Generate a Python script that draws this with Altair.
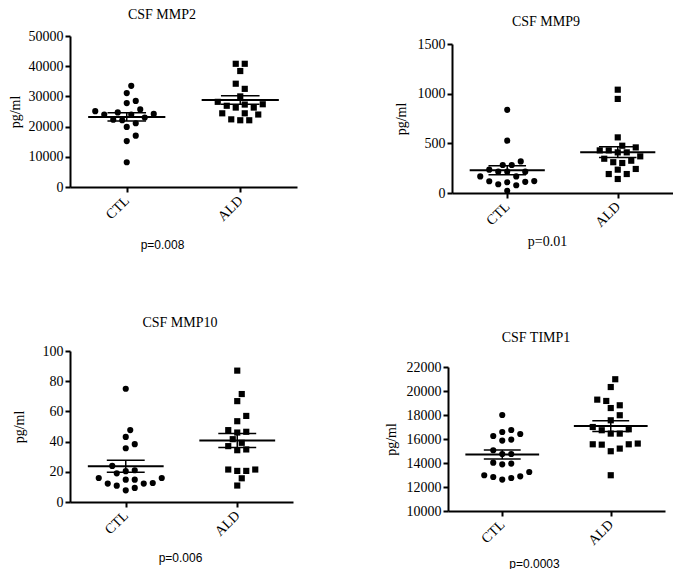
import altair as alt
import numpy as np
import pandas as pd

GROUPS = ["CTL", "ALD"]

MMP2_CTL = [33500, 31100, 27800, 28500, 25100, 25700, 24200, 24000, 24000, 24700,
            22100, 23000, 22300, 21100, 19900, 17000, 15200, 8200]
MMP2_ALD = [40800, 40800, 38400, 34200, 32500, 30000, 28200, 27300, 26300, 26300,
            26900, 27400, 24400, 22400, 22100, 22100, 24000, 24400]

MMP9_CTL = [837, 527, 318, 282, 282, 235, 215, 215, 215, 167, 167, 118, 88, 108,
            78, 112, 120, 23]
MMP9_ALD = [1040, 947, 560, 476, 459, 429, 409, 409, 429, 369, 345, 325, 310, 302,
            242, 235, 191, 191, 141]

MMP10_CTL = [75, 47.6, 43.1, 38.3, 35.6, 23.9, 20.4, 21, 19, 15.9, 14.8, 14.8, 15.9,
             12.2, 10.8, 12.6, 7.7, 9.3, 12.2]
MMP10_ALD = [87, 71.5, 66.8, 57, 53.5, 47.6, 46.5, 46, 41.6, 37, 34.3, 34.8, 39.2,
             21.5, 20.6, 20.6, 21.5, 15.7, 10.9]

TIMP1_CTL = [18000, 16420, 16750, 16580, 15950, 15870, 16250, 15060, 14750, 14750,
             13950, 13890, 14030, 12980, 12830, 12620, 12750, 12890, 13250]
TIMP1_ALD = [20980, 20330, 19170, 19280, 18580, 18810, 17980, 17560, 17000, 16730,
             16450, 16450, 16810, 15620, 15560, 15200, 14980, 15530, 15560, 12980]

TITLES = ["CSF MMP2", "CSF MMP9", "CSF MMP10", "CSF TIMP1"]
PVALUES = ["p=0.008", "p=0.01", "p=0.006", "p=0.0003"]
TICKS_MMP2 = [0, 10000, 20000, 30000, 40000, 50000]
TICKS_MMP9 = [0, 500, 1000, 1500]
TICKS_MMP10 = [0, 20, 40, 60, 80, 100]
TICKS_TIMP1 = [10000, 12000, 14000, 16000, 18000, 20000, 22000]
Y_LABEL = "pg/ml"

SERIF = "Liberation Serif"
SANS = "Liberation Sans"


def swarm_offsets(values, px_per_val, step_px=4.5, min_dist=8.0):
    vals = np.asarray(values, float)
    ys = vals * px_per_val
    order = np.argsort(vals, kind="stable")
    cands = [0.0]
    for k in range(1, 40):
        cands += [k * step_px, -k * step_px]
    placed = []
    offs = np.zeros(len(vals))
    for i in order:
        y = ys[i]
        for c in cands:
            if all((c - px) ** 2 + (y - py) ** 2 >= min_dist ** 2 for px, py in placed):
                offs[i] = c
                placed.append((c, y))
                break
    return offs


def panel(ctl, ald, title, pval, pfont, psize, ticks, width, height, top_pad,
          ylab_x, p_x, p_y, t_x, t_y):
    ymin, ymax = ticks[0], ticks[-1]
    full_h = height + top_pad
    px_per_val = height / (ymax - ymin)
    px_per_cat = width / 2.0
    rows = []
    for cat, (g, vals) in enumerate(zip(GROUPS, [ctl, ald]), start=1):
        offs = swarm_offsets(vals, px_per_val)
        for v, o in zip(vals, offs):
            rows.append({"group": g, "cat": cat, "value": v,
                         "xpos": cat + o / px_per_cat})
    df = pd.DataFrame(rows)

    xscale = alt.Scale(domain=[0.5, 2.5], nice=False, zero=False)
    yscale = alt.Scale(domain=[ymin, ymax], range=[full_h, top_pad], nice=False, zero=False)
    label_expr = "datum.value == 1 ? '%s' : '%s'" % (GROUPS[0], GROUPS[1])
    xaxis = alt.Axis(values=[1, 2], labelExpr=label_expr, labelAngle=-45,
                     labelAlign="right", labelBaseline="middle", labelFont=SERIF,
                     labelFontSize=14, labelColor="black", labelPadding=6,
                     tickSize=5, tickWidth=2, tickColor="black",
                     domainColor="black", domainWidth=2, grid=False,
                     title=pval, titleFont=pfont, titleFontSize=psize,
                     titleFontWeight="normal", titleColor="black",
                     titleX=p_x, titleY=p_y, titleAlign="center",
                     titleBaseline="middle")
    yaxis = alt.Axis(values=ticks, format="d", labelFont=SERIF, labelFontSize=14,
                     labelColor="black", labelPadding=2, tickSize=5, tickWidth=2,
                     tickColor="black", domainColor="black", domainWidth=2,
                     grid=False, title=Y_LABEL, titleFont=SERIF, titleFontSize=14,
                     titleFontWeight="normal", titleColor="black", titleX=ylab_x,
                     titleY=top_pad + height / 2, titleAngle=270, titleAlign="center",
                     titleBaseline="middle")

    pts = alt.Chart(df).mark_point(filled=True, opacity=1, color="black", size=38).encode(
        x=alt.X("xpos:Q", scale=xscale, axis=xaxis),
        y=alt.Y("value:Q", scale=yscale, axis=yaxis),
        shape=alt.Shape("group:N", scale=alt.Scale(domain=GROUPS, range=["circle", "square"]),
                        legend=None),
    )
    stats = alt.Chart(df).transform_aggregate(
        mean="mean(value)", sem="stderr(value)", groupby=["cat"]
    ).transform_calculate(
        lo="datum.mean - datum.sem", hi="datum.mean + datum.sem",
        ml="datum.cat - 0.34", mr="datum.cat + 0.34",
        cl="datum.cat - 0.17", cr="datum.cat + 0.17",
    )
    mean_rule = stats.mark_rule(color="black", strokeWidth=2).encode(
        x=alt.X("ml:Q", scale=xscale, axis=xaxis), x2="mr:Q",
        y=alt.Y("mean:Q", scale=yscale, axis=yaxis))
    sem_rule = stats.mark_rule(color="black", strokeWidth=1.5).encode(
        x=alt.X("cat:Q", scale=xscale, axis=xaxis),
        y=alt.Y("lo:Q", scale=yscale, axis=yaxis), y2="hi:Q")
    cap_lo = stats.mark_rule(color="black", strokeWidth=1.5).encode(
        x=alt.X("cl:Q", scale=xscale, axis=xaxis), x2="cr:Q",
        y=alt.Y("lo:Q", scale=yscale, axis=yaxis))
    cap_hi = stats.mark_rule(color="black", strokeWidth=1.5).encode(
        x=alt.X("cl:Q", scale=xscale, axis=xaxis), x2="cr:Q",
        y=alt.Y("hi:Q", scale=yscale, axis=yaxis))
    ttl = alt.Chart(pd.DataFrame({"t": [title]})).mark_text(
        font=SERIF, fontSize=14, color="black", baseline="middle", align="center"
    ).encode(text="t:N", x=alt.value(t_x), y=alt.value(t_y))
    return alt.layer(pts, mean_rule, sem_rule, cap_lo, cap_hi, ttl).properties(
        width=width, height=full_h)


p1 = panel(MMP2_CTL, MMP2_ALD, TITLES[0], PVALUES[0], SANS, 12, TICKS_MMP2,
           227, 151, 0, -55, 92, 57, 92, -21)
p2 = panel(MMP9_CTL, MMP9_ALD, TITLES[1], PVALUES[1], SERIF, 14, TICKS_MMP9,
           221, 149, 8, -51, 95, 48, 94, -14)
p3 = panel(MMP10_CTL, MMP10_ALD, TITLES[2], PVALUES[2], SANS, 12, TICKS_MMP10,
           223, 151, 0, -51, 110, 55, 110, -28)
p4 = panel(TIMP1_CTL, TIMP1_ALD, TITLES[3], PVALUES[3], SANS, 12, TICKS_TIMP1,
           217, 144, 16, -57, 86, 52, 88, -13)

row1 = alt.hconcat(p1, p2, spacing=97)
row2 = alt.hconcat(p3, p4, spacing=91)
chart = alt.vconcat(row1, row2, spacing=66).properties(
    padding=0, background="white"
).configure_view(stroke=None)

chart.save("out.html", embed_options={"renderer": "svg", "actions": False})
